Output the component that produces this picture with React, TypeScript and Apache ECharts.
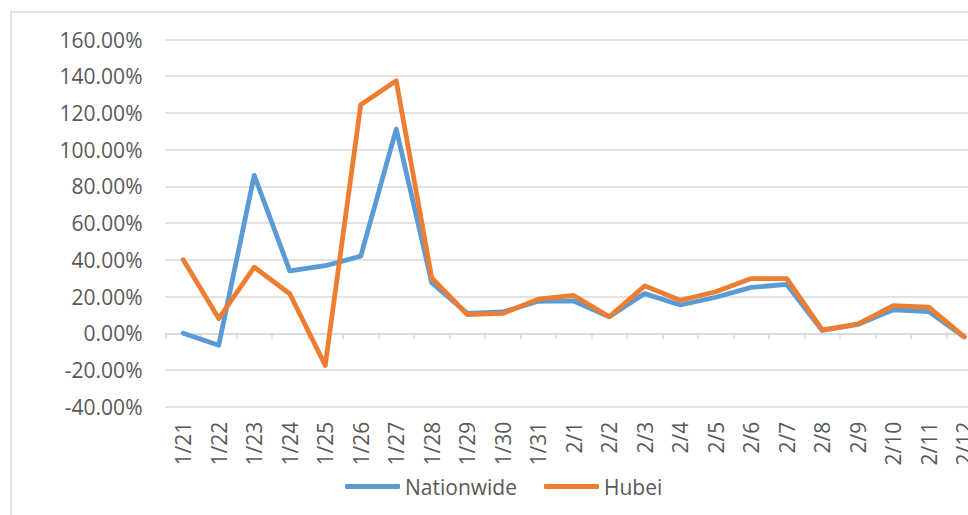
import React, { useEffect, useRef } from "react";
import * as echarts from "echarts";

const categories = [
  "1/21", "1/22", "1/23", "1/24", "1/25", "1/26", "1/27", "1/28", "1/29", "1/30", "1/31",
  "2/1", "2/2", "2/3", "2/4", "2/5", "2/6", "2/7", "2/8", "2/9", "2/10", "2/11", "2/12",
];
const nationwide = [
  0, -6.5, 86, 34, 36.8, 42, 111.2, 27.5, 10.8, 11.6, 17.4,
  17.6, 9, 21.6, 15.4, 19.6, 25, 26.6, 1.5, 4.8, 12.8, 11.8, -2,
];
const hubei = [
  40, 8, 36, 21.5, -17.5, 124.5, 137.5, 30.2, 10.2, 10.8, 18.6,
  20.6, 9, 25.8, 18, 22.6, 29.8, 29.8, 1.8, 5, 15, 14.2, -2,
];
const yTicks = { min: -40, max: 160, interval: 20 };

const FONT = "'Open Sans', sans-serif";
const TEXT = "#595959";
const GRID = "#d9d9d9";
const CHART_W = 1000;

export default function App() {
  const ref = useRef<HTMLDivElement>(null);
  useEffect(() => {
    if (!ref.current) return;
    const chart = echarts.init(ref.current, undefined, { renderer: "svg" });
    chart.setOption({
      animation: false,
      textStyle: { fontFamily: FONT },
      graphic: [
        {
          type: "rect",
          z: -10,
          shape: { x: 11, y: 12, width: 1400, height: 1400 },
          style: { fill: "none", stroke: GRID, lineWidth: 1.5 },
        },
      ],
      legend: {
        left: 340,
        top: 471,
        itemWidth: 55,
        itemHeight: 5,
        itemGap: 27,
        icon: "roundRect",
        textStyle: { color: TEXT, fontSize: 21, fontFamily: FONT },
        data: ["Nationwide", "Hubei"],
      },
      grid: { left: 165.5, top: 39.5, right: CHART_W - 982, bottom: 108.3, containLabel: false },
      xAxis: [
        {
          type: "category",
          data: categories,
          position: "bottom",
          axisLine: { show: false, onZero: false },
          axisTick: { show: false },
          axisLabel: {
            rotate: 90,
            margin: 15,
            color: TEXT,
            fontSize: 21,
            fontFamily: FONT,
            interval: 0,
          },
        },
        {
          type: "category",
          data: categories,
          position: "top",
          axisLine: { show: true, onZero: true, lineStyle: { color: GRID, width: 1.5 } },
          axisTick: { show: true, inside: true, length: 6, lineStyle: { color: GRID, width: 1.5 } },
          axisLabel: { show: false },
        },
      ],
      yAxis: {
        type: "value",
        min: yTicks.min,
        max: yTicks.max,
        interval: yTicks.interval,
        axisLine: { show: false },
        axisTick: { show: false },
        splitLine: { lineStyle: { color: GRID, width: 1.5 } },
        axisLabel: {
          margin: 23,
          color: TEXT,
          fontSize: 21,
          fontFamily: FONT,
          formatter: (v: number) => `${v.toFixed(2)}%`,
        },
      },
      series: [
        {
          name: "Nationwide",
          type: "line",
          data: nationwide,
          xAxisIndex: 0,
          symbol: "none",
          lineStyle: { color: "#5B9BD5", width: 4.8, cap: "round", join: "round" },
          itemStyle: { color: "#5B9BD5" },
        },
        {
          name: "Hubei",
          type: "line",
          data: hubei,
          xAxisIndex: 0,
          symbol: "none",
          lineStyle: { color: "#ED7D31", width: 4.8, cap: "round", join: "round" },
          itemStyle: { color: "#ED7D31" },
        },
      ],
    });
    return () => chart.dispose();
  }, []);
  return (
    <div style={{ position: "fixed", left: 0, top: 0, width: 968, height: 515, overflow: "hidden", background: "#fff" }}>
      <div ref={ref} style={{ width: CHART_W, height: 515 }} />
    </div>
  );
}
